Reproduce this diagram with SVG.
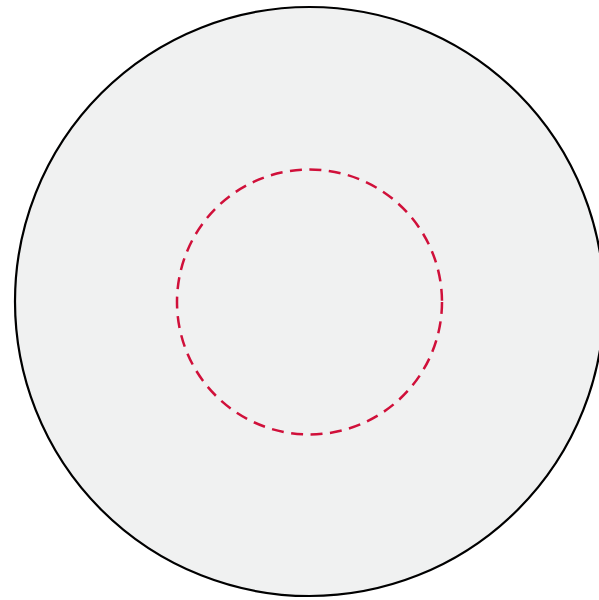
<svg xmlns="http://www.w3.org/2000/svg" width="599" height="600" viewBox="0 0 599 600">
<style>
.outer{fill:#f0f1f1;stroke:#000;stroke-width:2.2}
.inner{fill:none;stroke:#d0103a;stroke-width:2.5;stroke-dasharray:12 7.5}
</style>
<rect width="599" height="600" fill="#fff"/>
<g id="outer"><circle class="outer" cx="309.5" cy="301.5" r="294.5"/></g>
<g id="inner"><circle class="inner" cx="309.5" cy="302" r="132.5"/></g>
<g id="connectors"></g>
</svg>
